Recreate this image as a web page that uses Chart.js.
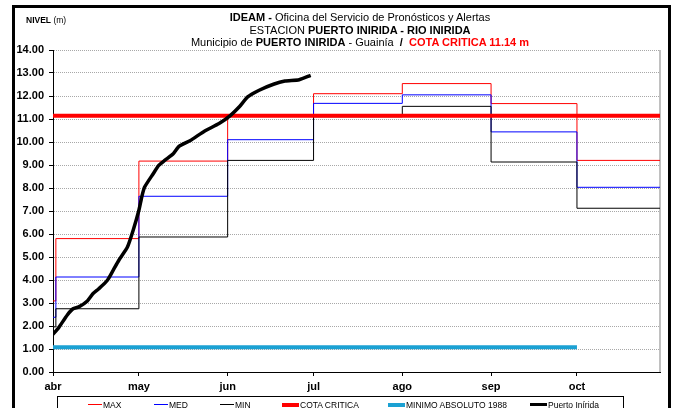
<!DOCTYPE html>
<html>
<head>
<meta charset="utf-8">
<script src="https://cdn.jsdelivr.net/npm/chart.js@4.4.1/dist/chart.umd.min.js"></script>
<style>
  html, body { margin: 0; padding: 0; background: #fff; }
  #wrap { position: relative; width: 679px; height: 408px; overflow: hidden; background: #fff;
          font-family: 'Liberation Sans', Arial, sans-serif; color: #000; }
  #frame { position: absolute; left: 12px; top: 5px; width: 653px; height: 430px; border: 3px solid #000; border-bottom: none; }
  #nivelChart { position: absolute; left: 0; top: 0; }
  #titles { position: absolute; left: 160px; top: 11px; width: 400px; text-align: center;
            font-size: 11px; line-height: 12.5px; white-space: nowrap; }
  #titles .red { color: #ff0000; font-weight: bold; }
  #yTitle { position: absolute; left: 26px; top: 15px; font-size: 8.5px; white-space: nowrap; }
  #legend { position: absolute; left: 57px; top: 396px; width: 565px; height: 20px;
            border: 1px solid #000; font-size: 8.5px; white-space: nowrap; }
  #legend .item { position: absolute; top: 2px; height: 11px; display: flex; align-items: center; }
  #legend .swatch { display: inline-block; width: 14px; margin-right: 1px; }
</style>
</head>
<body>
<div id="wrap">
  <canvas id="nivelChart" width="679" height="408"></canvas>
  <div id="frame"></div>
  <div id="yTitle"><b>NIVEL</b> (m)</div>
  <div id="titles">
    <div><b>IDEAM -</b> Oficina del Servicio de Pronósticos y Alertas</div>
    <div>ESTACION <b>PUERTO INIRIDA - RIO INIRIDA</b></div>
    <div>Municipio de <b>PUERTO INIRIDA</b> - Guainía &nbsp;<b>/</b> &nbsp;<span class="red">COTA CRITICA 11.14 m</span></div>
  </div>
  <div id="legend"></div>
</div>
<script>
// eje x en días contados desde el 1 de abril
const monthDays = [0, 30, 61, 91, 122, 153, 183];
const monthNames = ['abr', 'may', 'jun', 'jul', 'ago', 'sep', 'oct'];
const lastDay = 212;

// niveles históricos mensuales (m), cada valor rige hasta el siguiente cambio
const stepDays = [0, 1, 30, 61, 91, 122, 153, 183];
const maxLevels = [3.09, 5.80, 9.17, 11.15, 12.10, 12.54, 11.67, 9.20];
const medLevels = [2.38, 4.13, 7.64, 10.10, 11.68, 12.05, 10.44, 8.03];
const minLevels = [1.96, 2.75, 5.87, 9.20, 11.10, 11.55, 9.13, 7.12];

const cotaCritica = 11.14;
const minimoAbsoluto = 1.08;
const minimoHastaDia = 183;

// lecturas de la estación Puerto Inírida
const obsDays = [0, 2, 5, 7, 9, 12, 14, 16, 19, 21, 23, 26, 28, 30, 31, 32, 35, 37, 39, 42,
                 44, 48, 53, 58, 62, 65, 68, 72, 77, 81, 86, 90];
const obsLevels = [1.64, 1.93, 2.48, 2.75, 2.83, 3.09, 3.41, 3.62, 3.99, 4.42, 4.86, 5.43, 6.16, 7.03, 7.61, 8.04, 8.62, 8.99, 9.20, 9.49,
                   9.81, 10.07, 10.48, 10.80, 11.16, 11.52, 11.96, 12.25, 12.51, 12.65, 12.71, 12.90];

// posición izquierda de cada entrada de la leyenda (px dentro del recuadro)
const legendLeft = [30, 96, 162, 224, 330, 472];

function stepSeries(levels) {
  const pts = stepDays.map((d, i) => ({ x: d, y: levels[i] }));
  pts.push({ x: lastDay, y: levels[levels.length - 1] });
  return pts;
}

const plotBorder = {
  id: 'plotBorder',
  beforeDatasetsDraw(chart) {
    const { ctx, chartArea: a } = chart;
    ctx.save();
    ctx.strokeStyle = '#c0c0c0';
    ctx.lineWidth = 2;
    ctx.beginPath();
    ctx.moveTo(a.right, a.top);
    ctx.lineTo(a.right, a.bottom);
    ctx.stroke();
    ctx.restore();
  }
};

const tickFont = { family: "'Liberation Sans', Arial, sans-serif", size: 11, weight: 'bold' };

const chart = new Chart(document.getElementById('nivelChart'), {
  type: 'line',
  data: {
    datasets: [
      { label: 'MAX', data: stepSeries(maxLevels), borderColor: '#ff0000', borderWidth: 1, stepped: true, order: 5 },
      { label: 'MED', data: stepSeries(medLevels), borderColor: '#0000ff', borderWidth: 1, stepped: true, order: 4 },
      { label: 'MIN', data: stepSeries(minLevels), borderColor: '#000000', borderWidth: 1, stepped: true, order: 3 },
      { label: 'COTA CRITICA', data: [{ x: 0, y: cotaCritica }, { x: lastDay, y: cotaCritica }],
        borderColor: '#ff0000', borderWidth: 4, order: 1 },
      { label: 'MINIMO ABSOLUTO 1988', data: [{ x: 0, y: minimoAbsoluto }, { x: minimoHastaDia, y: minimoAbsoluto }],
        borderColor: '#1ba1d3', borderWidth: 4, order: 2 },
      { label: 'Puerto Inírida', data: obsDays.map((d, i) => ({ x: d, y: obsLevels[i] })),
        borderColor: '#000000', borderWidth: 3.5, tension: 0.2, order: 0 }
    ]
  },
  options: {
    responsive: false,
    animation: false,
    layout: { padding: { left: 0, right: 19, top: 50, bottom: 0 } },
    elements: { point: { radius: 0 }, line: { fill: false, borderCapStyle: 'butt' } },
    plugins: { legend: { display: false }, tooltip: { enabled: false } },
    scales: {
      x: {
        type: 'linear',
        min: 0,
        max: lastDay,
        afterBuildTicks: scale => { scale.ticks = monthDays.map(v => ({ value: v })); },
        afterFit: scale => { scale.height = 36; },
        ticks: {
          callback: (v, i) => monthNames[i],
          font: tickFont, color: '#000', padding: 4, maxRotation: 0, autoSkip: false
        },
        grid: { drawOnChartArea: false, tickLength: 4, color: '#000' },
        border: { color: '#000', width: 1 }
      },
      y: {
        min: 0,
        max: 14,
        afterFit: scale => { scale.width = 53; },
        ticks: { stepSize: 1, callback: v => v.toFixed(2), font: tickFont, color: '#000', padding: 5 },
        grid: { color: '#a8a8a8', lineWidth: 1, tickColor: '#000', tickLength: 4, tickBorderDash: [] },
        border: { color: '#000', width: 1, dash: [1, 1] }
      }
    }
  },
  plugins: [plotBorder]
});

// leyenda armada a partir de las series del gráfico
const legendBox = document.getElementById('legend');
chart.data.datasets.forEach((ds, i) => {
  const item = document.createElement('span');
  item.className = 'item';
  item.style.left = legendLeft[i] + 'px';
  const sw = document.createElement('span');
  sw.className = 'swatch';
  sw.style.height = ds.borderWidth + 'px';
  sw.style.background = ds.borderColor;
  if (ds.borderWidth > 2) sw.style.width = '17px';
  item.appendChild(sw);
  item.appendChild(document.createTextNode(ds.label));
  legendBox.appendChild(item);
});
</script>
</body>
</html>
